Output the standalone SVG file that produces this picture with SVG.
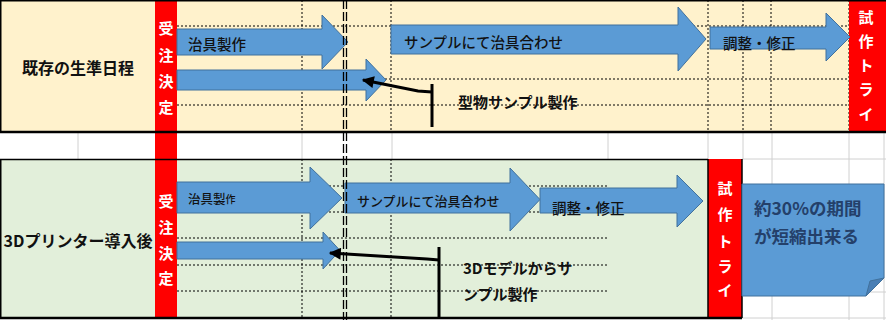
<svg xmlns="http://www.w3.org/2000/svg" width="886" height="320" viewBox="0 0 886 320">
<defs>
<style>
text{font-family:"Noto Sans CJK JP","Noto Sans",sans-serif;dominant-baseline:central}
.arrow{fill:#5b9bd5;stroke:#41719c;stroke-width:1}
.dot{stroke:#000;stroke-width:1;stroke-dasharray:2 2;fill:none}
.grid{stroke:#d0d0d0;stroke-width:1;fill:none}
.border{stroke:#000;fill:none}
.lbl{font-size:14.5px;font-weight:500;fill:#111}
.row{font-size:16px;font-weight:bold;fill:#111}
.red{fill:#ff0000}
.vt{font-size:15px;font-weight:bold;fill:#fff;text-anchor:middle}
.ann{font-size:15px;font-weight:bold;fill:#111}
.conn{stroke:#000;stroke-width:3;fill:none}
.dd{stroke:#000;stroke-width:1.3;stroke-dasharray:9 3;fill:none}
</style>
<marker id="ah" viewBox="0 0 10 10" refX="9" refY="5" markerWidth="4.5" markerHeight="4" orient="auto" markerUnits="strokeWidth">
<path d="M0,0 L10,5 L0,10 Z" fill="#000"/>
</marker>
</defs>
<rect x="0" y="0" width="886" height="320" fill="#fff"/>
<!-- gray sheet gridlines -->
<g id="sheet-grid">
<path class="grid" d="M78,132V159M302,132V159M392,132V159M608,132V159M708,132V159M743,132V159M772,132V320M849,132V320M884,132V320M742,159H886M742,292H886M742,318H886"/>
</g>
<!-- top panel -->
<g id="panel-top">
<rect x="0" y="0" width="849" height="132" fill="#fff2cc"/>
<path class="dot" d="M177,26H849M177,79H849M177,105H849M302,0V132M391,0V132M708,0V132M743,0V132M771,0V132M849,0V132"/>
<text class="row" x="78" y="67" text-anchor="middle">既存の生準日程</text>
</g>
<!-- bottom panel -->
<g id="panel-bottom">
<rect x="0" y="159" width="708" height="159" fill="#e2efda"/>
<path class="dot" d="M177,186H608M177,212H608M177,238H608M177,265H608M177,291H608M302,159V318M391,159V318"/>
<text class="row" x="78" y="240" text-anchor="middle">3Dプリンター導入後</text>
</g>
<!-- red columns -->
<g id="order-col">
<rect class="red" x="155" y="0" width="22" height="318"/>
<text class="vt" x="166" y="27">受</text>
<text class="vt" x="166" y="54">注</text>
<text class="vt" x="166" y="80">決</text>
<text class="vt" x="166" y="106">定</text>
<text class="vt" x="166" y="200">受</text>
<text class="vt" x="166" y="226">注</text>
<text class="vt" x="166" y="252">決</text>
<text class="vt" x="166" y="277">定</text>
</g>
<g id="trial-top">
<rect class="red" x="849" y="0" width="37" height="132"/>
<text class="vt" x="866" y="16">試</text>
<text class="vt" x="866" y="40">作</text>
<text class="vt" x="866" y="64">ト</text>
<text class="vt" x="866" y="88">ラ</text>
<text class="vt" x="866" y="113">イ</text>
</g>
<g id="trial-bottom">
<rect class="red" x="708" y="159" width="34" height="159"/>
<text class="vt" x="725" y="187">試</text>
<text class="vt" x="725" y="213">作</text>
<text class="vt" x="725" y="240">ト</text>
<text class="vt" x="725" y="265">ラ</text>
<text class="vt" x="725" y="289">イ</text>
</g>
<!-- borders -->
<g id="borders">
<path class="border" stroke-width="1.5" d="M0,0.75H886M0.75,0V132M0,159.5H708M0.75,159V318M708,159V318M742,159V318"/>
<path class="border" stroke-width="2.5" d="M0,132H886M0,318H742"/>
</g>
<!-- top arrows -->
<g id="top-jig">
<polygon class="arrow" points="177,29 322,29 322,15 348,42 322,69 322,55 177,55"/>
<text class="lbl" x="188" y="43">治具製作</text>
</g>
<g id="top-sample">
<polygon class="arrow" points="177,70 366,70 366,59 386,80 366,101 366,90 177,90"/>
</g>
<g id="top-fit">
<polygon class="arrow" points="391,25 678,25 678,7 706,39 678,71 678,54 391,54"/>
<text class="lbl" x="404" y="41">サンプルにて治具合わせ</text>
</g>
<g id="top-adjust">
<polygon class="arrow" points="710,27 826,27 826,13 850,37 826,61 826,49 710,49"/>
<text class="lbl" x="723" y="42">調整・修正</text>
</g>
<g id="top-note">
<text class="ann" x="458" y="101">型物サンプル製作</text>
</g>
<!-- bottom arrows -->
<g id="bottom-jig">
<polygon class="arrow" points="177,182 310,182 310,167 342,198 310,229 310,213 177,213"/>
<text class="lbl" x="188" y="198"><tspan font-size="12.5px">治具製</tspan><tspan font-size="10px">作</tspan></text>
</g>
<g id="bottom-sample">
<polygon class="arrow" points="177,242 323,242 323,232 340,250.5 323,269 323,259 177,259"/>
</g>
<g id="bottom-fit">
<polygon class="arrow" points="345,183 510,183 510,168 540,199.5 510,231 510,213 345,213"/>
<text class="lbl" x="357" y="200" style="font-size:13px">サンプルにて治具合わせ</text>
</g>
<g id="bottom-adjust">
<polygon class="arrow" points="540,188 677,188 677,175 703,201 677,227 677,213 540,213"/>
<text class="lbl" x="552" y="207">調整・修正</text>
</g>
<g id="bottom-note">
<text class="ann" x="463" y="267">3Dモデルからサ</text>
<text class="ann" x="463" y="293">ンプル製作</text>
</g>
<g id="result">
<polygon points="742,184 884,184 884,278 866,296 742,296" fill="#5b9bd5" stroke="#41719c" stroke-width="1"/>
<polygon points="866,296 884,278 870,281" fill="#4a7fb5" stroke="#41719c" stroke-width="1"/>
<text x="754" y="207" style="font-size:17.5px;font-weight:bold;fill:#24406a">約30%の期間</text>
<text x="754" y="235" style="font-size:17.5px;font-weight:bold;fill:#24406a">が短縮出来る</text>
</g>
<!-- connectors -->
<g id="connectors">
<path class="conn" d="M432,84V127"/>
<path class="conn" d="M432,92L418,91L363,80" marker-end="url(#ah)"/>
<path class="conn" d="M439,247V318"/>
<path class="conn" d="M439,260L427,259L330,253" marker-end="url(#ah)"/>
<path class="dd" d="M343.5,0V320M346.5,0V320"/>
</g>
</svg>
